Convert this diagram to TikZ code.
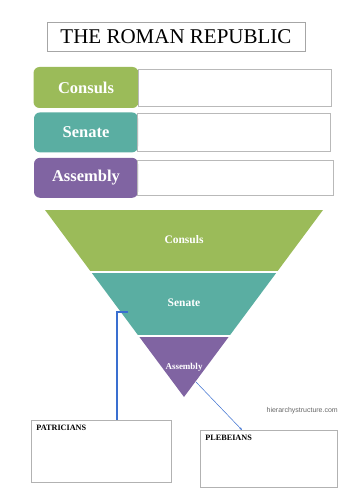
\documentclass[tikz,border=0pt]{standalone}
\usepackage{fontspec}
\setmainfont{Liberation Serif}
\newfontfamily\webfont{Liberation Sans}
\usetikzlibrary{arrows.meta,positioning}
\definecolor{consulgreen}{HTML}{9BBB59}
\definecolor{senateteal}{HTML}{5AAEA2}
\definecolor{assemblypurple}{HTML}{8064A2}
\definecolor{linkblue}{HTML}{3A6FD0}

\begin{document}
\begin{tikzpicture}[x=1pt, y=-1pt,
  tag/.style={rounded corners=6pt, text=white, inner sep=0pt, minimum width=104pt, minimum height=40pt,
    font=\bfseries\fontsize{16.5}{18}\selectfont},
  blank/.style={draw=gray!55, line width=0.8pt, inner sep=0pt, minimum width=193pt, minimum height=37pt},
  band/.style={text=white, font=\bfseries\fontsize{11.5}{13}\selectfont},
  note/.style={draw=gray!60, line width=0.8pt, inner xsep=5pt, inner ysep=4pt, align=left, anchor=north west,
    font=\bfseries\fontsize{8.2}{10}\selectfont},
  link/.style={draw=linkblue}]
  \useasboundingbox (0,0) rectangle (354,500);

  \node[draw=gray!70, line width=0.8pt, minimum width=258pt, minimum height=29pt, inner sep=0pt,
    font=\fontsize{21}{24}\selectfont] (title) at (176,36.5) {THE ROMAN REPUBLIC};

  % legend rows
  \node[tag, fill=consulgreen, minimum width=105pt, minimum height=41pt] (consulsTag) at (86,87.5) {Consuls};
  \node[tag, fill=senateteal, below=4pt of consulsTag] (senateTag) {Senate};
  \node[tag, fill=assemblypurple, below=5pt of senateTag] (assemblyTag) {Assembly};
  \node[blank, right=-1pt of consulsTag] (consulsBlank) {};
  \node[blank, right=-1pt of senateTag] (senateBlank) {};
  \node[blank, right=-1pt of assemblyTag, minimum width=196pt, minimum height=35pt] (assemblyBlank) {};

  % inverted pyramid
  \begin{scope}
    \clip (45,210) -- (323,210) -- (184,397) -- cycle;
    \fill[consulgreen] (0,210) rectangle (354,271);
    \fill[senateteal] (0,273) rectangle (354,335);
    \fill[assemblypurple] (0,337) rectangle (354,400);
  \end{scope}
  \node[band] (consulsBand) at (184,240) {Consuls};
  \node[band] (senateBand) at (184,303) {Senate};
  \node[band, font=\bfseries\fontsize{9}{10}\selectfont] (assemblyBand) at (184,367) {Assembly};

  % class boxes
  \node[note, text width=130pt, text height=6pt, text depth=48pt] (patricians) at (31,420) {PATRICIANS};
  \node[note, text width=127pt, text height=6pt, text depth=43pt] (plebeians) at (200,430) {PLEBEIANS};
  \node[font=\webfont\fontsize{7}{8}\selectfont, text=gray!80!black, anchor=east, inner sep=0pt] (site) at (338,411) {hierarchystructure.com};

  \coordinate (senateEdge) at (128,312);
  \coordinate (assemblyEdge) at (196,382);
  \draw[link, line width=1.3pt] (senateEdge) -| (patricians.north west -| 117,0);
  \draw[link, line width=0.5pt, -{Stealth[length=3pt]}] (assemblyEdge) -- (plebeians.north west -| 242,0);
\end{tikzpicture}
\end{document}
